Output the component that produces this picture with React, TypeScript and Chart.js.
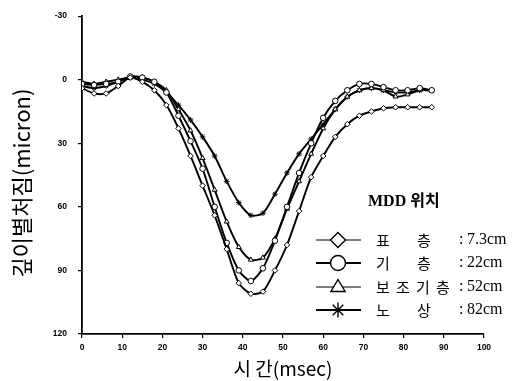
import React, { useEffect, useRef } from 'react';
import { Chart, registerables } from 'chart.js';

Chart.register(...registerables);

// time (msec)
const times = [0, 3, 6, 9, 12, 15, 18, 21, 24, 27, 30, 33, 36, 39, 42, 45, 48, 51, 54, 57, 60, 63, 66, 69, 72, 75, 78, 81, 84, 87];
// deflection (micron) by MDD depth
const surfaceLayer = [4, 6.5, 6.5, 3, -1, 1, 5, 12, 23, 36, 50, 64, 80, 96, 101, 100, 90, 78, 62, 46, 36, 27, 21, 17, 15, 13.5, 13, 13, 13, 13];
const baseLayer = [2, 2.5, 2, 1, -1.5, -1, 1, 6, 17, 29, 42, 60, 77, 90, 95, 89, 76, 60, 44, 30, 18, 10, 5, 2, 2, 3.5, 5, 5, 4, 5];
const subbaseLayer = [1, 2, 1, 0, -1, -1, 1, 5, 14, 24, 37, 52, 67, 79, 85, 84, 75, 61, 48, 35, 23, 14, 8, 5, 4, 5, 8, 7, 5, 5];
const subgradeLayer = [3, 4, 3, 1, -1, 0, 2, 6, 12, 19, 27, 36, 48, 58, 64, 63, 54, 44, 35, 28, 21, 14, 8, 5, 4, 5, 6, 6, 5, 5];

const seriesValues = [surfaceLayer, baseLayer, subbaseLayer, subgradeLayer];
const seriesNames = ['표층', '기층', '보조기층', '노상'];
const seriesDepths = ['7.3cm', '22cm', '52cm', '82cm'];
const seriesMarkers = ['rectRot', 'circle', 'triangle', 'star'];
const legendTitle = 'MDD 위치';

const xTitle = '시 간(msec)';
const yTitle = '깊이별처짐(micron)';

function drawMarker(ctx: CanvasRenderingContext2D, style: string, x: number, y: number, r: number) {
  ctx.beginPath();
  if (style === 'circle') {
    ctx.arc(x, y, r, 0, Math.PI * 2);
  } else if (style === 'rectRot') {
    ctx.moveTo(x, y - r);
    ctx.lineTo(x + r, y);
    ctx.lineTo(x, y + r);
    ctx.lineTo(x - r, y);
    ctx.closePath();
  } else if (style === 'triangle') {
    ctx.moveTo(x, y - r);
    ctx.lineTo(x + r * 0.95, y + r * 0.6);
    ctx.lineTo(x - r * 0.95, y + r * 0.6);
    ctx.closePath();
  } else {
    for (let k = 0; k < 4; k++) {
      const a = (k * Math.PI) / 4;
      ctx.moveTo(x - Math.cos(a) * r, y - Math.sin(a) * r);
      ctx.lineTo(x + Math.cos(a) * r, y + Math.sin(a) * r);
    }
    ctx.stroke();
    return;
  }
  ctx.fillStyle = '#fff';
  ctx.fill();
  ctx.stroke();
}

const yTitlePlugin = {
  id: 'yTitle',
  afterDraw(chart: any) {
    const ctx: CanvasRenderingContext2D = chart.ctx;
    const area = chart.chartArea;
    ctx.save();
    ctx.translate(22, (area.top + area.bottom) / 2 + 8);
    ctx.rotate(-Math.PI / 2);
    ctx.fillStyle = '#000';
    ctx.textAlign = 'center';
    ctx.textBaseline = 'middle';
    ctx.font = '22px "Noto Sans CJK KR", sans-serif';
    ctx.fillText(yTitle, 0, 0);
    ctx.restore();
  },
};

const legendPlugin = {
  id: 'mddLegend',
  afterDraw(chart: any) {
    const ctx: CanvasRenderingContext2D = chart.ctx;
    ctx.save();
    ctx.fillStyle = '#000';
    ctx.strokeStyle = '#000';
    ctx.textAlign = 'left';
    ctx.textBaseline = 'middle';
    ctx.font = 'bold 16px "Liberation Serif", "Noto Sans CJK KR", serif';
    ctx.fillText(legendTitle, 368, 202);
    const rowY = [240, 263, 287, 310];
    seriesNames.forEach((name, i) => {
      const y = rowY[i];
      ctx.lineWidth = i % 2 === 1 ? 2.2 : 1.2;
      ctx.beginPath();
      ctx.moveTo(316, y);
      ctx.lineTo(361, y);
      ctx.stroke();
      ctx.lineWidth = 1.4;
      drawMarker(ctx, seriesMarkers[i], 338, y, 7.5);
      ctx.fillStyle = '#000';
      ctx.textAlign = 'left';
      ctx.font = '15px "Noto Sans CJK KR", serif';
      const chars = Array.from(name.normalize('NFC'));
      if (chars.length === 2) {
        ctx.fillText(chars[0], 376, y);
        ctx.fillText(chars[1], 417, y);
      } else {
        chars.forEach((c, k) => ctx.fillText(c, 376 + k * 20, y));
      }
      ctx.font = '16px "Liberation Serif", "DejaVu Serif", serif';
      ctx.fillText(':', 459, y);
      ctx.fillText(seriesDepths[i], 467, y);
    });
    ctx.restore();
  },
};

export default function App() {
  const ref = useRef<HTMLCanvasElement>(null);
  useEffect(() => {
    document.body.style.margin = '0';
    const datasets = seriesValues.map((vals, i) => ({
      label: seriesNames[i],
      data: times.map((t, k) => ({ x: t, y: vals[k] })),
      borderColor: '#000',
      borderWidth: 1.9,
      backgroundColor: '#fff',
      pointStyle: seriesMarkers[i] as any,
      pointRadius: 2.8,
      pointBorderWidth: 1,
      pointBorderColor: '#000',
      pointBackgroundColor: '#fff',
      tension: 0.25,
      fill: false,
    }));
    const chart = new Chart(ref.current!, {
      type: 'line',
      data: { datasets },
      options: {
        animation: false,
        responsive: false,
        layout: { padding: { left: 0, right: 29, top: 12, bottom: 0 } },
        plugins: { legend: { display: false }, tooltip: { enabled: false } },
        scales: {
          x: {
            type: 'linear',
            min: 0,
            max: 100,
            ticks: {
              stepSize: 10,
              color: '#000',
              padding: 5,
              font: { family: '"Liberation Sans", Arial, sans-serif', size: 8.5, weight: 'bold' },
            },
            grid: { drawOnChartArea: false, drawTicks: true, tickLength: 4, color: '#000', lineWidth: 1.2 },
            border: { display: true, color: '#000', width: 1.8 },
            title: {
              display: true,
              text: xTitle,
              color: '#000',
              font: { family: '"Noto Sans CJK KR", sans-serif', size: 19 },
              padding: { top: 0, bottom: 1 },
            },
            afterFit: (s: any) => {
              s.height = 47;
            },
          },
          y: {
            type: 'linear',
            reverse: true,
            min: -30,
            max: 120,
            ticks: {
              stepSize: 30,
              color: '#000',
              padding: 11,
              font: { family: '"Liberation Sans", Arial, sans-serif', size: 8.5, weight: 'bold' },
            },
            grid: { drawOnChartArea: false, drawTicks: true, tickLength: 4, color: '#000', lineWidth: 1.2 },
            border: { display: true, color: '#000', width: 1.8 },
            title: { display: false, text: yTitle },
            afterFit: (s: any) => {
              s.width = 82;
            },
          },
        },
      },
      plugins: [legendPlugin, yTitlePlugin],
    });
    return () => chart.destroy();
  }, []);
  return (
    <div style={{ width: 513, height: 381 }}>
      <canvas ref={ref} width={513} height={381} style={{ display: 'block' }} />
    </div>
  );
}
